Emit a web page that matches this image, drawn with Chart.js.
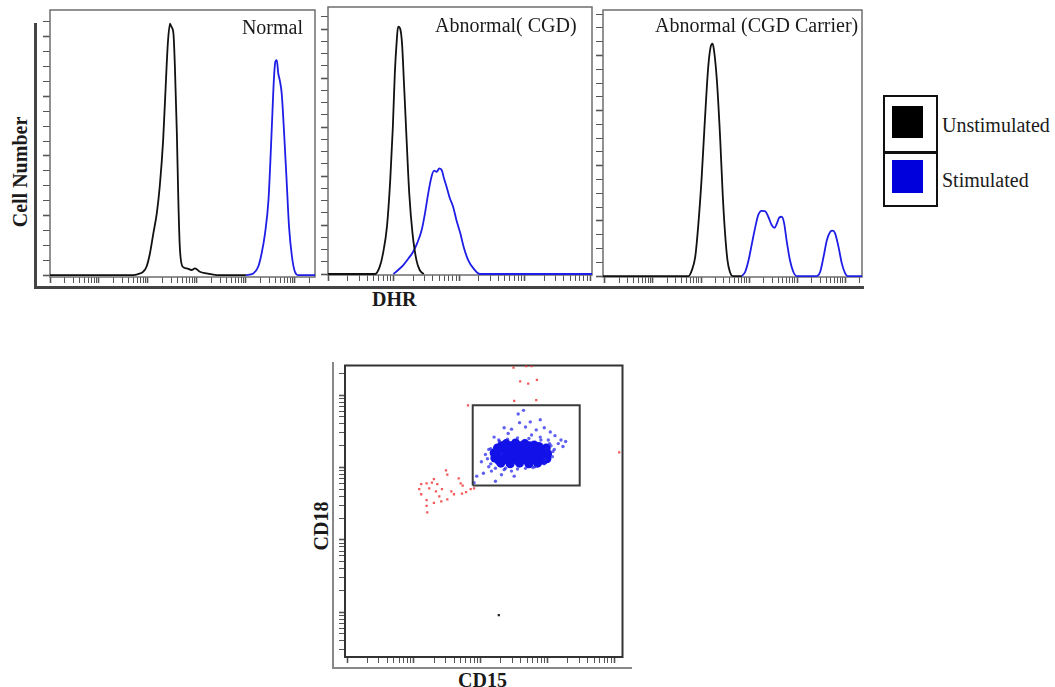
<!DOCTYPE html>
<html>
<head>
<meta charset="utf-8">
<script src="https://cdn.jsdelivr.net/npm/chart.js@4.4.0/dist/chart.umd.min.js"></script>
<style>
body { margin: 0; background: #fff; }
#page { position: relative; width: 1055px; height: 687px; overflow: hidden; font-family: "Liberation Serif", "Times New Roman", serif; color: #1a1a1a; }
.box { position: absolute; }
.lbl { position: absolute; white-space: nowrap; font-size: 20px; line-height: 20px; }
.b { font-weight: bold; }
.rot { transform: translate(-50%, -50%) rotate(-90deg); }
.rule { position: absolute; }
</style>
</head>
<body>
<div id="page">
  <!-- outer axes of the DHR panels -->
  <div class="rule" style="left:34px;top:23px;width:2.5px;height:265px;background:#444"></div>
  <div class="rule" style="left:34px;top:286px;width:830px;height:2.5px;background:#444"></div>
  <!-- outer axes of the CD15/CD18 plot -->
  <div class="rule" style="left:332px;top:362px;width:2px;height:307px;background:#888"></div>
  <div class="rule" style="left:332px;top:667px;width:300px;height:2px;background:#888"></div>

  <div class="box" id="w1"><canvas id="c1"></canvas></div>
  <div class="box" id="w2"><canvas id="c2"></canvas></div>
  <div class="box" id="w3"><canvas id="c3"></canvas></div>
  <div class="box" id="w4"><canvas id="c4"></canvas></div>

  <div class="lbl" style="right:752px;top:16.5px">Normal</div>
  <div class="lbl" style="left:435px;top:15px">Abnormal( CGD)</div>
  <div class="lbl" style="left:655px;top:15px">Abnormal (CGD Carrier)</div>
  <div class="lbl b rot" style="left:20px;top:172px">Cell Number</div>
  <div class="lbl b" style="left:372px;top:288.5px">DHR</div>
  <div class="lbl b rot" style="left:321px;top:526px">CD18</div>
  <div class="lbl b" style="left:458px;top:669.5px">CD15</div>

  <!-- legend -->
  <div class="box" style="left:883px;top:95px;width:55px;height:112px;border:2.5px solid #111;box-sizing:border-box"></div>
  <div class="box" style="left:883px;top:151px;width:55px;height:2.5px;background:#111"></div>
  <div class="box" style="left:892px;top:106px;width:31px;height:32px;background:#000"></div>
  <div class="box" style="left:892px;top:160px;width:31px;height:33px;background:#0000dc"></div>
  <div class="lbl" style="left:942px;top:114.5px">Unstimulated</div>
  <div class="lbl" style="left:942px;top:169.5px">Stimulated</div>
</div>
<script>
// DHR histograms, x in decades of fluorescence, y in cell counts (axis units)
const normalUnstimX = [0, 1.70, 1.80, 1.90, 1.97, 2.04, 2.11, 2.18, 2.24, 2.31, 2.38, 2.41, 2.45, 2.48, 2.52, 2.55, 2.59, 2.62, 2.65, 2.71, 2.79, 2.89, 2.96, 3.06, 3.20, 3.40, 4.0];
const normalUnstimY = [0, 0, 0.07, 0.22, 0.56, 1.45, 2.8, 4.14, 5.93, 9.06, 13.98, 15.77, 16.89, 16.66, 16.22, 13.98, 9.51, 5.03, 1.9, 0.56, 0.45, 0.34, 0.45, 0.22, 0.11, 0, 0];
const normalStimX = [4.0, 4.15, 4.25, 4.32, 4.39, 4.46, 4.5, 4.54, 4.57, 4.6, 4.63, 4.66, 4.69, 4.73, 4.78, 4.83, 4.88, 4.94, 5.0, 5.07, 5.41];
const normalStimY = [0, 0.11, 0.56, 1.45, 2.8, 5.03, 7.72, 10.85, 13.09, 14.32, 14.43, 13.54, 13.09, 12.2, 9.51, 6.38, 3.24, 1.23, 0.22, 0, 0];

const cgdUnstimX = [0, 0.72, 0.79, 0.84, 0.9, 0.95, 0.99, 1.02, 1.05, 1.07, 1.1, 1.13, 1.16, 1.2, 1.24, 1.29, 1.35, 1.4, 1.46];
const cgdUnstimY = [0, 0, 0.6, 1.69, 3.87, 7.67, 12.03, 16.38, 19.1, 20.19, 20.05, 18.83, 15.56, 10.94, 6.59, 3.32, 1.14, 0.33, 0];
const cgdStimX = [1.0, 1.07, 1.15, 1.23, 1.3, 1.36, 1.43, 1.48, 1.53, 1.58, 1.62, 1.66, 1.7, 1.74, 1.77, 1.81, 1.86, 1.91, 1.96, 2.02, 2.07, 2.14, 2.22, 2.32, 4.03];
const cgdStimY = [0, 0.33, 0.73, 1.28, 1.82, 2.5, 3.59, 4.95, 6.59, 7.95, 8.44, 8.35, 8.63, 8.44, 7.81, 7.13, 6.18, 5.5, 4.41, 3.32, 2.23, 1.14, 0.46, 0, 0];

const carrierUnstimX = [-0.04, 1.74, 1.81, 1.88, 1.94, 2.01, 2.08, 2.15, 2.2, 2.24, 2.27, 2.33, 2.4, 2.45, 2.5, 2.55, 2.6, 2.66, 2.85];
const carrierUnstimY = [0, 0, 0.43, 1.4, 3.57, 6.96, 11.3, 15.17, 16.62, 16.86, 16.38, 14.2, 9.86, 6.0, 3.1, 1.16, 0.31, 0, 0];
const carrierStimX = [2.85, 2.92, 2.99, 3.06, 3.13, 3.19, 3.26, 3.33, 3.4, 3.47, 3.53, 3.58, 3.63, 3.68, 3.73, 3.78, 3.85, 3.92, 3.99, 4.41, 4.48, 4.55, 4.62, 4.69, 4.74, 4.79, 4.86, 4.93, 5.0, 5.05, 5.35];
const carrierStimY = [0, 0.31, 1.16, 2.37, 3.57, 4.42, 4.73, 4.71, 4.3, 3.7, 3.5, 3.82, 4.25, 4.3, 3.82, 2.61, 1.16, 0.31, 0, 0, 0.31, 1.4, 2.61, 3.21, 3.29, 3.1, 2.13, 0.92, 0.19, 0, 0];

// CD15 / CD18 dot plot, both axes in decades
const redX = [1.11, 1.19, 1.27, 1.35, 1.48, 1.5, 1.11, 1.23, 1.33, 1.42, 1.56, 1.6, 1.19, 1.3, 1.41, 1.5, 1.19, 1.2, 1.67, 1.7, 1.73, 1.72, 1.78, 1.85, 1.9, 1.38, 1.08, 1.3, 2.49, 2.68, 2.76, 2.59, 2.71, 2.84, 2.5, 2.83, 1.81, 4.07];
const redY = [2.77, 2.78, 2.79, 2.77, 2.96, 2.9, 2.63, 2.71, 2.67, 2.7, 2.67, 2.63, 2.55, 2.51, 2.53, 2.56, 2.47, 2.38, 2.85, 2.78, 2.75, 2.64, 2.66, 2.7, 2.71, 2.6, 2.7, 2.84, 4.38, 4.4, 4.4, 4.19, 4.16, 4.21, 3.92, 3.93, 3.86, 3.21];
const blueX = [2.64, 2.56, 2.74, 2.89, 2.46, 2.67, 2.83, 3.04, 3.11, 3.2, 3.16, 2.27, 2.15, 2.07, 2.01, 2.12, 2.04, 1.94, 2.16, 2.31, 2.46, 2.67, 2.81, 2.96, 3.08, 2.98, 3.01, 1.9, 2.37, 2.89, 2.76, 2.41, 2.31, 3.23, 3.27, 2.22, 2.2, 2.95, 3.05, 2.5, 2.58, 2.35,
    2.12, 2.1, 2.15, 2.22, 2.35, 2.55, 2.78, 2.95, 3.07, 3.1, 3.03, 2.9, 2.72, 2.55, 2.4, 2.28];
const blueY = [3.79, 3.74, 3.63, 3.66, 3.53, 3.56, 3.52, 3.49, 3.44, 3.38, 3.33, 3.38, 3.26, 3.18, 3.08, 3.01, 2.92, 2.88, 2.95, 2.9, 2.95, 2.99, 3.01, 3.11, 3.22, 3.26, 3.38, 2.79, 2.99, 3.42, 3.45, 3.47, 3.19, 3.29, 3.36, 2.81, 3.42, 3.55, 3.3, 2.88, 3.62, 3.55,
    3.25, 3.12, 3.05, 2.99, 2.97, 2.98, 3.0, 3.05, 3.15, 3.25, 3.33, 3.38, 3.4, 3.41, 3.39, 3.36];
const coreX = [2.38, 2.52, 2.66, 2.8, 2.25, 2.4, 2.55, 2.7, 2.85, 2.98, 2.2, 2.33, 2.47, 2.6, 2.74, 2.88, 3.0, 2.21, 2.34, 2.48, 2.62, 2.76, 2.9, 2.99, 2.3, 2.44, 2.58, 2.72, 2.85,
    2.31, 2.45, 2.59, 2.73, 2.87, 2.27, 2.41, 2.54, 2.67, 2.81, 2.94, 2.27, 2.4, 2.54, 2.68, 2.81, 2.94, 2.27, 2.41, 2.55, 2.69, 2.83, 2.94];
const coreY = [3.33, 3.34, 3.33, 3.31, 3.27, 3.26, 3.27, 3.27, 3.26, 3.27, 3.2, 3.2, 3.21, 3.2, 3.2, 3.2, 3.19, 3.13, 3.12, 3.13, 3.13, 3.12, 3.13, 3.12, 3.06, 3.05, 3.06, 3.05, 3.06,
    3.3, 3.3, 3.3, 3.3, 3.29, 3.235, 3.235, 3.235, 3.235, 3.235, 3.23, 3.165, 3.165, 3.165, 3.165, 3.165, 3.16, 3.095, 3.095, 3.095, 3.095, 3.095, 3.1];
const blackX = [2.27];
const blackY = [0.96];
const gateX = [1.88, 1.88, 3.48, 3.48, 1.88];
const gateY = [2.75, 3.86, 3.86, 2.75, 2.75];

const pairs = (xs, ys) => xs.map((x, i) => ({ x: x, y: ys[i] }));

// log style tick marks: one major per decade, eight minors
const decadeTicks = (scale) => {
    const t = [];
    for (let d = Math.floor(scale.min); d <= Math.ceil(scale.max); d++) {
        for (let k = 1; k <= 9; k++) {
            const v = d + Math.log10(k);
            if (v >= scale.min - 1e-9 && v <= scale.max + 1e-9) t.push({ value: v, major: k === 1 });
        }
    }
    scale.ticks = t;
};
const countTicks = (scale) => {
    const t = [];
    for (let v = 0; v <= scale.max; v++) t.push({ value: v, major: v % 4 === 0 });
    scale.ticks = t;
};

const framePlugin = (color, width) => ({
    id: 'frame',
    beforeDatasetsDraw(chart) {
        const { ctx, chartArea: a } = chart;
        ctx.save();
        ctx.strokeStyle = color;
        ctx.lineWidth = width;
        ctx.strokeRect(a.left, a.top, a.right - a.left, a.bottom - a.top);
        ctx.restore();
    }
});

// place the wrapper so that the chart area lands on the frame
function place(id, f, tickY, tickX) {
    const w = document.getElementById(id);
    w.style.left = (f.l - tickY) + 'px';
    w.style.top = (f.t - 2) + 'px';
    w.style.width = (f.r - f.l + tickY + 2) + 'px';
    w.style.height = (f.b - f.t + tickX + 2) + 'px';
}

function axis(min, max, builder, tickLen) {
    return {
        type: 'linear',
        min: min,
        max: max,
        afterBuildTicks: builder,
        border: { display: false },
        ticks: { display: false },
        grid: {
            drawOnChartArea: false,
            drawTicks: true,
            tickLength: tickLen,
            tickColor: '#555',
            tickWidth: (c) => (c.tick && c.tick.major ? 1.6 : 1)
        }
    };
}

function histogram(canvasId, wrapId, frame, xMin, xMax, yMin, yMax, unstim, stim) {
    place(wrapId, frame, 7, 6);
    const ctx = document.getElementById(canvasId).getContext('2d');
    return new Chart(ctx, {
        type: 'scatter',
        data: {
            datasets: [{
                label: 'Unstimulated',
                data: unstim,
                showLine: true,
                borderColor: '#111',
                borderWidth: 1.8,
                pointRadius: 0,
                cubicInterpolationMode: 'monotone'
            }, {
                label: 'Stimulated',
                data: stim,
                showLine: true,
                borderColor: '#1e1ee6',
                borderWidth: 1.8,
                pointRadius: 0,
                cubicInterpolationMode: 'monotone'
            }]
        },
        options: {
            responsive: true,
            maintainAspectRatio: false,
            animation: false,
            events: [],
            layout: { padding: { top: 2, right: 2, left: 0, bottom: 0 } },
            scales: {
                x: axis(xMin, xMax, decadeTicks, 6),
                y: axis(yMin, yMax, countTicks, 7)
            },
            plugins: { legend: { display: false }, tooltip: { enabled: false } }
        },
        plugins: [framePlugin('#6e6e6e', 1.5)]
    });
}

histogram('c1', 'w1', { l: 50, t: 10, r: 315, b: 277 }, 0, 5.41, -0.13, 17.8,
    pairs(normalUnstimX, normalUnstimY), pairs(normalStimX, normalStimY));
histogram('c2', 'w2', { l: 328, t: 7, r: 592, b: 275 }, 0, 4.03, -0.08, 21.8,
    pairs(cgdUnstimX, cgdUnstimY), pairs(cgdStimX, cgdStimY));
histogram('c3', 'w3', { l: 603, t: 10, r: 862, b: 277 }, -0.04, 5.35, -0.07, 19.3,
    pairs(carrierUnstimX, carrierUnstimY), pairs(carrierStimX, carrierStimY));

// dot plot
const dotFrame = { l: 345, t: 363, r: 625, b: 657 };
place('w4', dotFrame, 6, 6);
const dotCtx = document.getElementById('c4').getContext('2d');
new Chart(dotCtx, {
    type: 'scatter',
    data: {
        datasets: [{
            label: 'Gate',
            data: pairs(gateX, gateY),
            showLine: true,
            borderColor: '#3a3a3a',
            borderWidth: 2,
            pointRadius: 0,
            tension: 0
        }, {
            label: 'Other',
            data: pairs(blackX, blackY),
            pointStyle: 'rect',
            pointRadius: 1.6,
            backgroundColor: '#222',
            borderWidth: 0
        }, {
            label: 'Gated',
            data: pairs(blueX, blueY),
            pointRadius: 1.7,
            backgroundColor: 'rgba(30, 30, 235, 0.7)',
            borderWidth: 0
        }, {
            label: 'Gated core',
            data: pairs(coreX, coreY),
            pointRadius: 4.5,
            backgroundColor: '#1212e8',
            borderWidth: 0
        }, {
            label: 'Outside gate',
            data: pairs(redX, redY),
            pointStyle: 'rect',
            pointRadius: 1.6,
            backgroundColor: 'rgba(240, 60, 60, 0.85)',
            borderWidth: 0
        }]
    },
    options: {
        responsive: true,
        maintainAspectRatio: false,
        animation: false,
        events: [],
        layout: { padding: { top: 2, right: 2, left: 0, bottom: 0 } },
        scales: {
            x: axis(-0.03, 4.12, decadeTicks, 6),
            y: axis(0.38, 4.41, decadeTicks, 6)
        },
        plugins: { legend: { display: false }, tooltip: { enabled: false } }
    },
    plugins: [framePlugin('#333', 2)]
});
</script>
</body>
</html>
